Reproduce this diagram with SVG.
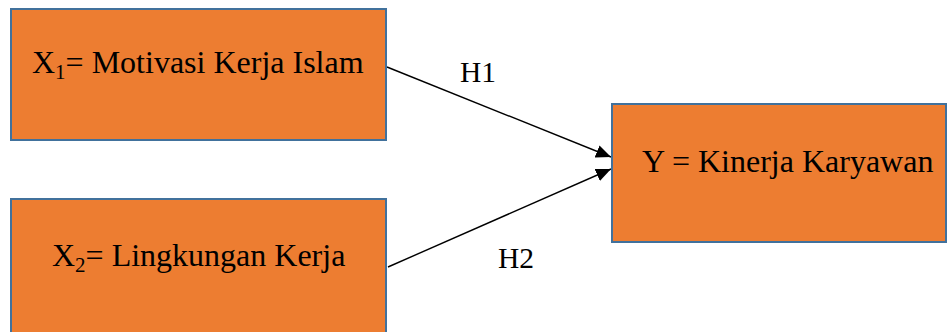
<svg xmlns="http://www.w3.org/2000/svg" width="948" height="332" viewBox="0 0 948 332">
  <style>
    .box { fill: #ED7D31; stroke: #41719C; stroke-width: 2; }
    .lbl { font-family: "Liberation Serif", "Times New Roman", serif; font-size: 32px; fill: #000; }
    .sub { font-size: 21px; }
    .edge { stroke: #000; stroke-width: 1.4; fill: none; marker-end: url(#arrow); }
    .hl { font-family: "Liberation Serif", "Times New Roman", serif; font-size: 29.5px; fill: #000; }
  </style>
  <defs>
    <marker id="arrow" viewBox="0 0 15 13" refX="15" refY="6.5" markerWidth="15" markerHeight="13" markerUnits="userSpaceOnUse" orient="auto">
      <path d="M0,0 L15,6.5 L0,13 Z" fill="#000"/>
    </marker>
  </defs>
  <rect width="948" height="332" fill="#fff"/>

  <g id="connectors">
    <line class="edge" x1="387" y1="67" x2="611" y2="157"/>
    <line class="edge" x1="388" y1="267" x2="611" y2="169"/>
    <text class="hl" x="460" y="82">H1</text>
    <text class="hl" x="498" y="268">H2</text>
  </g>

  <g id="x1">
    <rect class="box" x="11" y="9" width="375" height="131"/>
    <text class="lbl" x="32" y="73">X<tspan class="sub" dy="6">1</tspan><tspan dy="-6">= Motivasi Kerja Islam</tspan></text>
  </g>

  <g id="x2">
    <rect class="box" x="11" y="199" width="375" height="145"/>
    <text class="lbl" x="52" y="266">X<tspan class="sub" dy="6">2</tspan><tspan dy="-6">= Lingkungan Kerja</tspan></text>
  </g>

  <g id="y">
    <rect class="box" x="612" y="104" width="334" height="138"/>
    <text class="lbl" x="642" y="172">Y = Kinerja Karyawan</text>
  </g>
</svg>
